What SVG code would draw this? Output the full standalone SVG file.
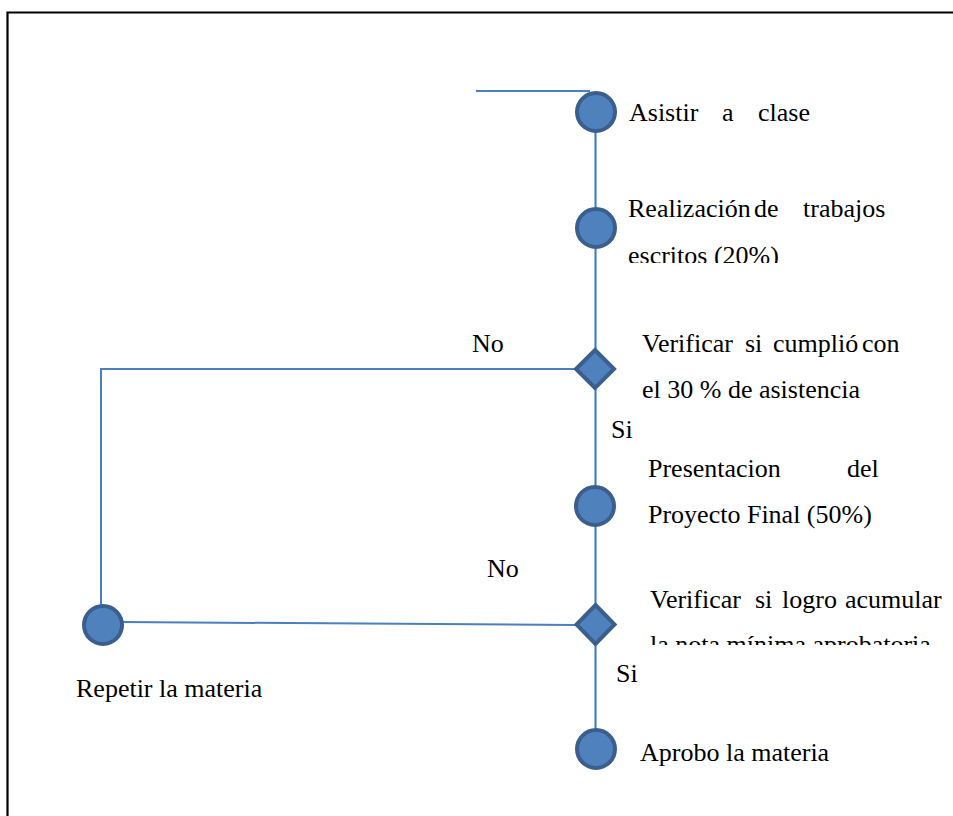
<svg xmlns="http://www.w3.org/2000/svg" width="953" height="816" viewBox="0 0 953 816">
  <style>
    .frame { stroke: #000; stroke-width: 2.2; fill: none; }
    .flow { stroke: #2f79d0; stroke-width: 2; fill: none; }
    .branch { stroke: #4a7fc2; stroke-width: 2; fill: none; }
    .node { fill: #4f81bd; stroke: #3a5f8e; stroke-width: 4; }
    .lbl { font-family: "Liberation Serif", "Times New Roman", serif; font-size: 26px; fill: #000; }
  </style>
  <defs>
    <clipPath id="clipTrabajos"><rect x="600" y="180" width="353" height="83"/></clipPath>
    <clipPath id="clipNota"><rect x="600" y="585" width="353" height="60"/></clipPath>
  </defs>
  <rect width="953" height="816" fill="#fff"/>

  <!-- page frame (top and left edges) -->
  <path class="frame" d="M7.5 816 V12.5 H953"/>

  <!-- connectors -->
  <g id="connectors">
    <line class="branch" x1="476" y1="91" x2="590" y2="91" stroke-width="1.6"/>
    <line class="flow" x1="595.5" y1="112" x2="595.5" y2="749"/>
    <polyline class="branch" points="574,369 101,369 101,606"/>
    <line class="branch" x1="122" y1="622" x2="575" y2="625"/>
  </g>

  <g id="asistir">
    <circle class="node" cx="596" cy="112" r="19"/>
    <text class="lbl" y="121"><tspan x="629">Asistir</tspan><tspan x="722">a</tspan><tspan x="758">clase</tspan></text>
  </g>

  <g id="trabajos">
    <circle class="node" cx="596" cy="228" r="19"/>
    <text class="lbl" y="217"><tspan x="628">Realización</tspan><tspan x="754">de</tspan><tspan x="803">trabajos</tspan></text>
    <text class="lbl" x="628" y="264" clip-path="url(#clipTrabajos)">escritos (20%)</text>
  </g>

  <g id="verificar-asistencia">
    <polygon class="node" points="595,350 614,369 595,388 576,369"/>
    <text class="lbl" y="352"><tspan x="642">Verificar</tspan><tspan x="745">si</tspan><tspan x="773">cumplió</tspan><tspan x="862">con</tspan></text>
    <text class="lbl" x="642" y="398">el 30 %  de asistencia</text>
    <text class="lbl" x="472" y="352">No</text>
    <text class="lbl" x="611" y="438">Si</text>
  </g>

  <g id="proyecto">
    <circle class="node" cx="595" cy="506" r="19"/>
    <text class="lbl" y="477"><tspan x="648">Presentacion</tspan><tspan x="847">del</tspan></text>
    <text class="lbl" x="648" y="523">Proyecto Final (50%)</text>
  </g>

  <g id="verificar-nota">
    <polygon class="node" points="595.5,605 614.5,624.5 595.5,644 576.5,624.5"/>
    <text class="lbl" y="608"><tspan x="650">Verificar</tspan><tspan x="755">si</tspan><tspan x="782">logro</tspan><tspan x="845">acumular</tspan></text>
    <text class="lbl" x="650" y="653" clip-path="url(#clipNota)">la nota mínima aprobatoria</text>
    <text class="lbl" x="487" y="577">No</text>
    <text class="lbl" x="616" y="682">Si</text>
  </g>

  <g id="repetir">
    <circle class="node" cx="103" cy="625" r="19"/>
    <text class="lbl" x="76" y="697">Repetir la materia</text>
  </g>

  <g id="aprobo">
    <circle class="node" cx="596" cy="749" r="19"/>
    <text class="lbl" x="640" y="761">Aprobo la materia</text>
  </g>
</svg>
